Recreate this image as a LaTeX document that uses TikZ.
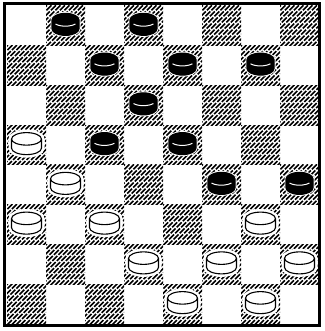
\documentclass[tikz,border=0pt]{standalone}
\begin{document}
\begin{tikzpicture}[x=1pt,y=1pt,
  hatch/.style={line width=1.5pt, black, dash pattern=on 7pt off 1.6pt},
  pieceline/.style={line width=1.1pt},
  pics/blackpiece/.style={code={
    \draw[white, fill=white, line width=3pt] (-13.5,4) -- (-13.5,-5) arc[start angle=180,end angle=360,x radius=13.5,y radius=6.5] -- (13.5,4) arc[start angle=0,end angle=180,x radius=13.5,y radius=6.5] -- cycle;
    \draw[black, fill=black, pieceline] (-13.5,4) -- (-13.5,-5) arc[start angle=180,end angle=360,x radius=13.5,y radius=6.5] -- (13.5,4) arc[start angle=0,end angle=180,x radius=13.5,y radius=6.5] -- cycle;
    \draw[white, line width=1pt] (-10,-0.2) arc[start angle=220,end angle=320,x radius=13,y radius=6];
  }},
  pics/whitepiece/.style={code={
    \draw[white, fill=white, line width=6pt] (-15,4) -- (-15,-5) arc[start angle=180,end angle=360,x radius=15,y radius=6.5] -- (15,4) arc[start angle=0,end angle=180,x radius=15,y radius=6.5] -- cycle;
    \draw[black, fill=white, pieceline] (-15,4) -- (-15,-5) arc[start angle=180,end angle=360,x radius=15,y radius=6.5] -- (15,4) arc[start angle=0,end angle=180,x radius=15,y radius=6.5] -- cycle;
    \draw[black, pieceline] (-15,4) arc[start angle=180,end angle=360,x radius=15,y radius=6];
  }}]
\useasboundingbox (0,0) rectangle (324,331);
\fill[white] (0,0) rectangle (324,331);
% hatched dark squares
\foreach \c in {1,...,8} {
  \foreach \r in {1,...,8} {
    \pgfmathtruncatemacro\odd{mod(\c+\r,2)}
    \ifnum\odd=1
      \pgfmathsetmacro\xa{7+39*(\c-1)}
      \pgfmathsetmacro\ya{331-6-39.75*\r}
      \begin{scope}
        \clip (\xa,\ya) rectangle ++(39,39.75);
        \foreach \k in {-45,-40.5,...,41} {
          \draw[hatch] (\xa+\k,\ya-1) -- ++(46,46);
        }
      \end{scope}
    \fi
  }
}
% border
\draw[line width=3pt] (4.5,331-4) rectangle (319.5,331-326);
% pieces
\foreach \c/\r in {2/1,4/1,3/2,5/2,7/2,4/3,3/4,5/4,6/5,8/5} {
  \pic at ({7+39*(\c-0.5)},{331-6-39.75*(\r-0.5)+2}) {blackpiece};
}
\foreach \c/\r in {1/4,2/5,1/6,3/6,7/6,4/7,6/7,8/7,5/8,7/8} {
  \pic at ({7+39*(\c-0.5)},{331-6-39.75*(\r-0.5)+2}) {whitepiece};
}
\end{tikzpicture}
\end{document}
